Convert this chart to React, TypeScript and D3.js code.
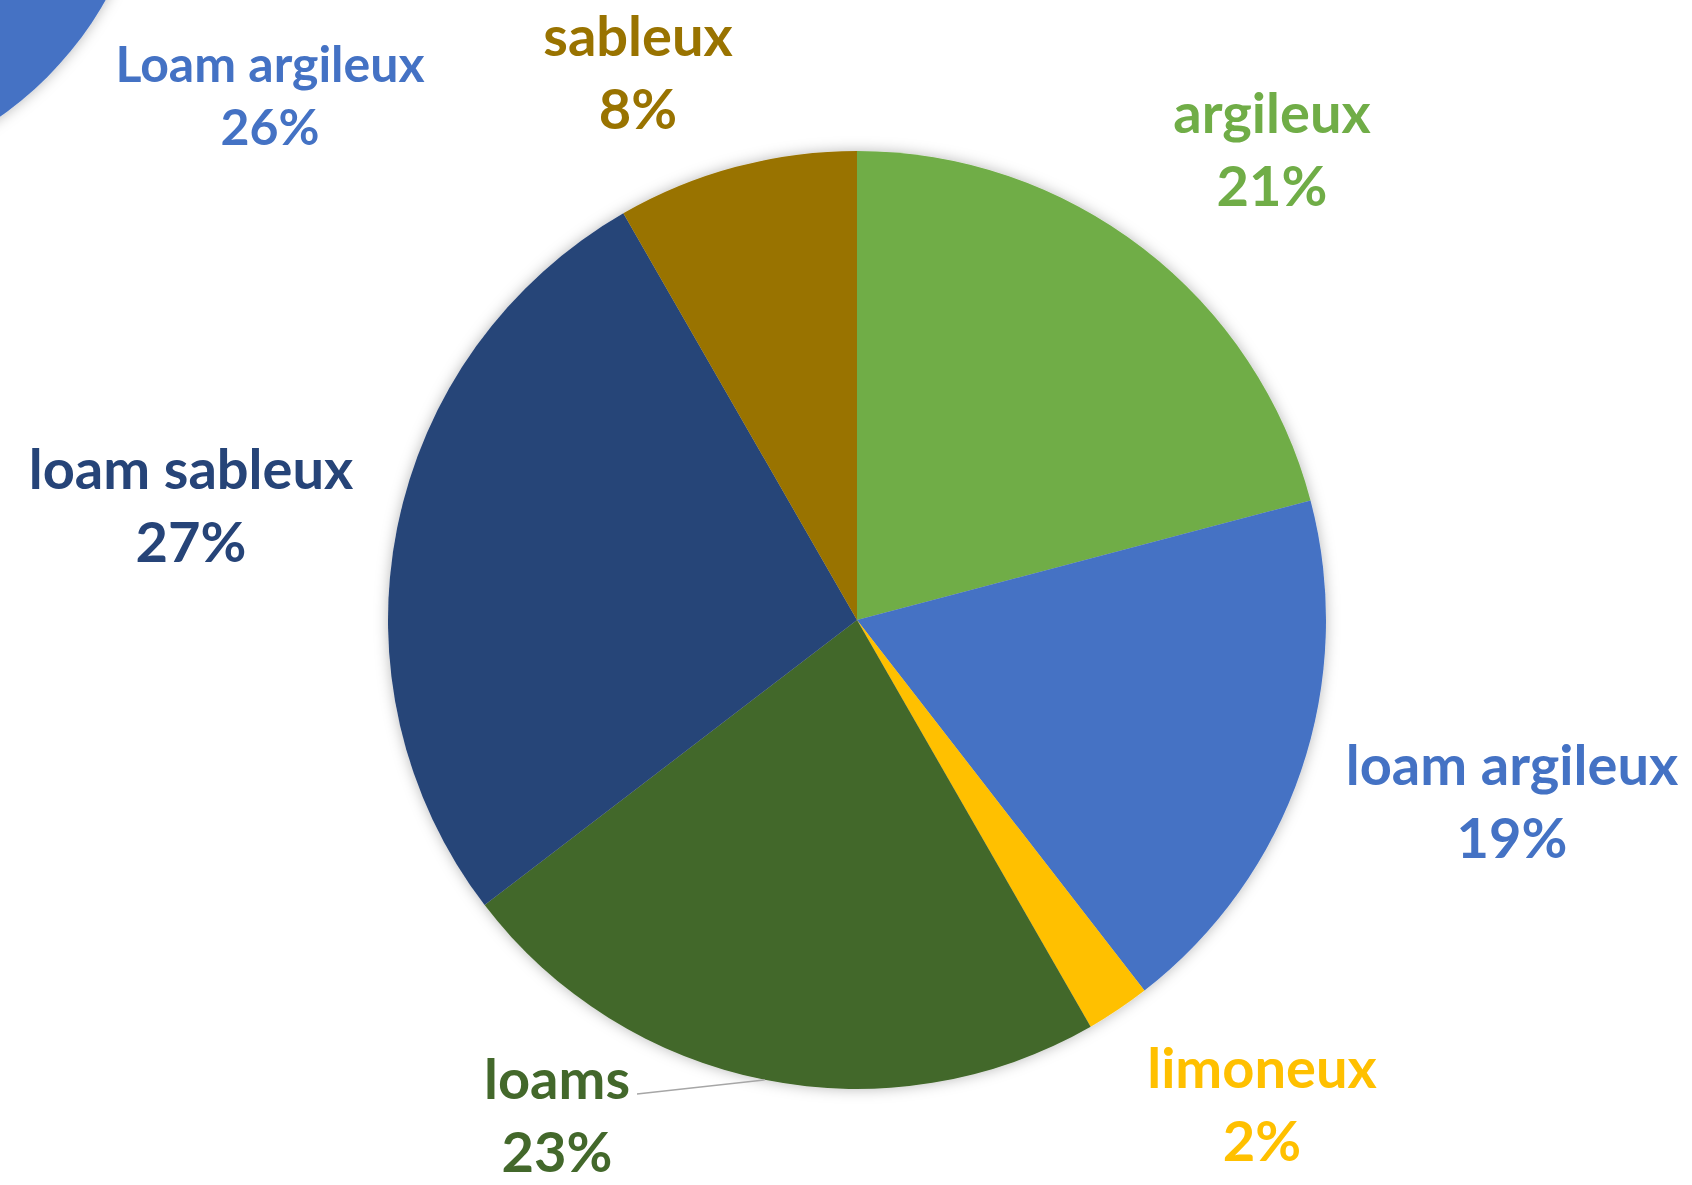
import React from "react";
import * as d3 from "d3";

const categories = ["argileux", "loam argileux", "limoneux", "loams", "loam sableux", "sableux"];
const values = [20.9, 18.6, 2.2, 22.9, 27.1, 8.3];
const colors = ["#70AD47", "#4472C4", "#FFC000", "#43682B", "#264478", "#997300"];

// label layout (center x, first baseline) in page pixels
const labelLayout: [number, number][] = [
  [1272, 133],
  [1512, 785],
  [1262, 1088],
  [557, 1099],
  [191, 489],
  [638, 56],
];

const fragmentLabel = "Loam argileux";
const fragmentValue = 26;

const W = 1692;
const H = 1185;
const CX = 857;
const CY = 620;
const R = 469;
const FONT = "Lato, 'Open Sans', sans-serif";

export default function App() {
  const total = d3.sum(values);
  const pie = d3.pie<number>().sort(null).value((d) => d);
  const arcs = pie(values);
  const arc = d3.arc<d3.PieArcDatum<number>>().innerRadius(0).outerRadius(R);

  const loamsIdx = categories.indexOf("loams");
  const la = arcs[loamsIdx];
  const midA = (la.startAngle + la.endAngle) / 2;
  const edge = [CX + R * Math.sin(midA), CY - R * Math.cos(midA)];
  const [lx, ly] = labelLayout[loamsIdx];

  return (
    <svg width={W} height={H} style={{ position: "absolute", left: 0, top: 0, background: "#fff" }}>
      <defs>
        <filter id="sh" x="-20%" y="-20%" width="140%" height="140%">
          <feDropShadow dx="0" dy="0" stdDeviation="7" floodColor="#000" floodOpacity="0.28" />
        </filter>
      </defs>
      {/* fragment of a neighbouring chart */}
      <circle cx={-206} cy={-176} r={358} fill="#4472C4" filter="url(#sh)" />
      <text x={270} y={82} textAnchor="middle" fill="#4472C4" fontFamily={FONT} fontWeight={700} fontSize={50}>
        {fragmentLabel}
      </text>
      <text x={270} y={145} textAnchor="middle" fill="#4472C4" fontFamily={FONT} fontWeight={700} fontSize={50}>
        {fragmentValue}%
      </text>

      <g transform={`translate(${CX},${CY})`} filter="url(#sh)">
        {arcs.map((a, i) => (
          <path key={i} d={arc(a) || ""} fill={colors[i]} />
        ))}
      </g>

      <line x1={lx + 80} y1={ly - 5} x2={edge[0]} y2={edge[1]} stroke="#a6a6a6" strokeWidth={1.5} />

      {arcs.map((a, i) => {
        const [x, y] = labelLayout[i];
        return (
          <g key={i} fill={colors[i]} fontFamily={FONT} fontWeight={700} fontSize={56} textAnchor="middle">
            <text x={x} y={y}>{categories[i]}</text>
            <text x={x} y={y + 73}>{Math.round((values[i] / total) * 100)}%</text>
          </g>
        );
      })}
    </svg>
  );
}
